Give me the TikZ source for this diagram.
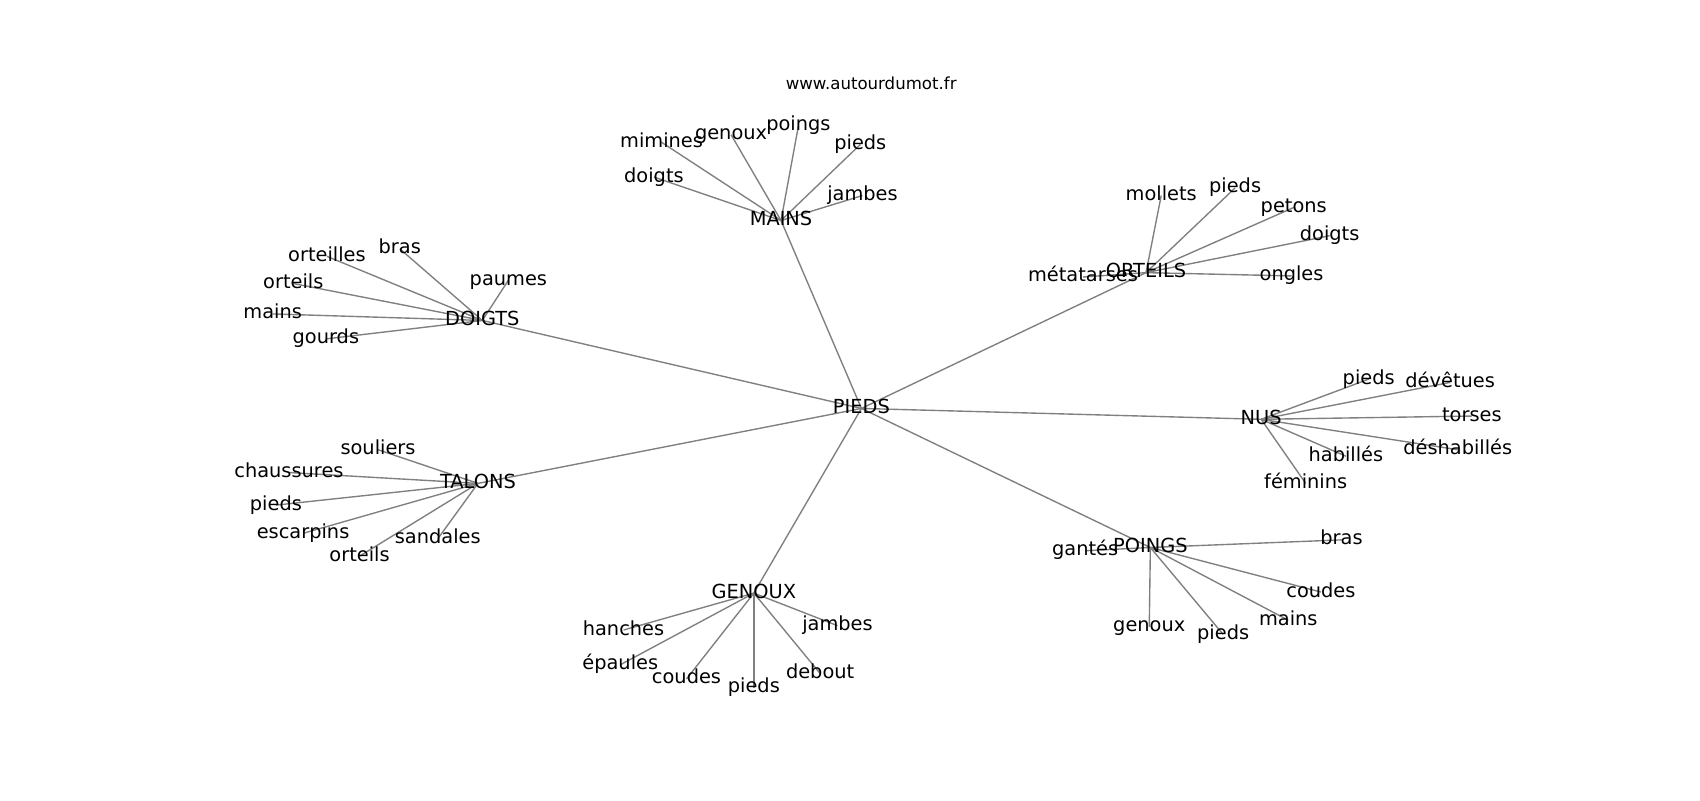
\documentclass[tikz,border=0pt]{standalone}
\usepackage{fontspec}
\setmainfont{DejaVu Sans}
\usetikzlibrary{backgrounds}
\begin{document}
\begin{tikzpicture}[x=0.010863in,y=-0.010863in,
  lbl/.style={inner sep=0pt, font=\fontsize{14}{16}\selectfont, text height=10.6pt, text depth=3.4pt},
  ttl/.style={inner sep=0pt, font=\fontsize{12}{14}\selectfont, text height=9.1pt, text depth=2.9pt},
  edge/.style={draw=gray, line width=1pt}]
\useasboundingbox (1,-2) rectangle (1566,734.5);
\node[ttl] (title) at (803,76) {www.autourdumot.fr};
% hubs
\node[lbl] (pieds) at (794,374) {PIEDS};
\node[lbl] (mains) at (720,201) {MAINS};
\node[lbl] (doigts) at (445,293) {DOIGTS};
\node[lbl] (orteils) at (1056,249) {ORTEILS};
\node[lbl] (nus) at (1162,384) {NUS};
\node[lbl] (poings) at (1060,502) {POINGS};
\node[lbl] (genoux) at (695,544) {GENOUX};
\node[lbl] (talons) at (441,443) {TALONS};
% MAINS leaves
\node[lbl] (ma1) at (610,129) {mimines};
\node[lbl] (ma2) at (674,122) {genoux};
\node[lbl] (ma3) at (736,114) {poings};
\node[lbl] (ma4) at (793,131) {pieds};
\node[lbl] (ma5) at (603,161) {doigts};
\node[lbl] (ma6) at (795,178) {jambes};
% DOIGTS leaves
\node[lbl] (do1) at (369,227) {bras};
\node[lbl] (do2) at (302,234) {orteilles};
\node[lbl] (do3) at (469,256) {paumes};
\node[lbl] (do4) at (271,259) {orteils};
\node[lbl] (do5) at (252,287) {mains};
\node[lbl] (do6) at (301,310) {gourds};
% ORTEILS leaves
\node[lbl] (or1) at (1070,178) {mollets};
\node[lbl] (or2) at (1138,171) {pieds};
\node[lbl] (or3) at (1192,189) {petons};
\node[lbl] (or4) at (1225,215) {doigts};
\node[lbl] (or5) at (1190,252) {ongles};
\node[lbl] (or6) at (998,253) {métatarses};
% NUS leaves
\node[lbl] (nu1) at (1261,347) {pieds};
\node[lbl] (nu2) at (1336,350) {dévêtues};
\node[lbl] (nu3) at (1356,381) {torses};
\node[lbl] (nu4) at (1343,412) {déshabillés};
\node[lbl] (nu5) at (1240,418) {habillés};
\node[lbl] (nu6) at (1203,443) {féminins};
% POINGS leaves
\node[lbl] (po1) at (1000,505) {gantés};
\node[lbl] (po2) at (1236,495) {bras};
\node[lbl] (po3) at (1217,543) {coudes};
\node[lbl] (po4) at (1187,569) {mains};
\node[lbl] (po5) at (1127,582) {pieds};
\node[lbl] (po6) at (1059,575) {genoux};
% GENOUX leaves
\node[lbl] (ge1) at (575,578) {hanches};
\node[lbl] (ge2) at (572,610) {épaules};
\node[lbl] (ge3) at (633,623) {coudes};
\node[lbl] (ge4) at (695,631) {pieds};
\node[lbl] (ge5) at (756,618) {debout};
\node[lbl] (ge6) at (772,574) {jambes};
% TALONS leaves
\node[lbl] (ta1) at (349,412) {souliers};
\node[lbl] (ta2) at (267,433) {chaussures};
\node[lbl] (ta3) at (255,463) {pieds};
\node[lbl] (ta4) at (280,489) {escarpins};
\node[lbl] (ta5) at (332,510) {orteils};
\node[lbl] (ta6) at (404,494) {sandales};
\begin{scope}[on background layer]
\foreach \h in {mains,doigts,orteils,nus,poings,genoux,talons}
  \draw[edge] (pieds.center) -- (\h.center);
\foreach \l in {ma1,ma2,ma3,ma4,ma5,ma6} \draw[edge] (mains.center) -- (\l.center);
\foreach \l in {do1,do2,do3,do4,do5,do6} \draw[edge] (doigts.center) -- (\l.center);
\foreach \l in {or1,or2,or3,or4,or5,or6} \draw[edge] (orteils.center) -- (\l.center);
\foreach \l in {nu1,nu2,nu3,nu4,nu5,nu6} \draw[edge] (nus.center) -- (\l.center);
\foreach \l in {po1,po2,po3,po4,po5,po6} \draw[edge] (poings.center) -- (\l.center);
\foreach \l in {ge1,ge2,ge3,ge4,ge5,ge6} \draw[edge] (genoux.center) -- (\l.center);
\foreach \l in {ta1,ta2,ta3,ta4,ta5,ta6} \draw[edge] (talons.center) -- (\l.center);
\end{scope}
\end{tikzpicture}
\end{document}
